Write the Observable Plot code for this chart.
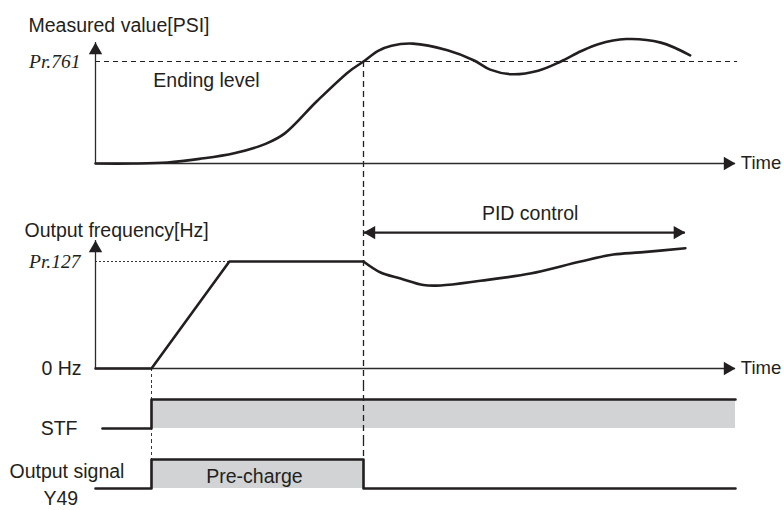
<!DOCTYPE html>
<html>
<head>
<meta charset="utf-8">
<script src="https://cdn.jsdelivr.net/npm/d3@7"></script>
<script src="https://cdn.jsdelivr.net/npm/@observablehq/plot@0.6"></script>
<style>
  html, body { margin: 0; padding: 0; background: #fff; }
  #chart svg { display: block; }
</style>
</head>
<body>
<div id="chart"></div>
<script>
// ---------- data (time in arbitrary units, levels in % of set level) ----------
const timeDomain = [0, 24];          // time axis extent
const tStart = 2.1;                  // STF on / acceleration starts
const tAccelEnd = 5.02;              // output frequency reaches Pr.127
const tSwitch = 10.05;               // measured value reaches Pr.761 (ending level)
const tPidEnd = 22.12;               // end of PID control arrow
const measuredAxisTop = 118.6;
const freqAxisTop = 119.6;
const endingLevel = 100;             // Pr.761
const precharFreq = 100;             // Pr.127
const pidArrowLevel = 127;

// measured value [t, value]
const measured = [
  [0, 0], [1.4, 0], [2.7, 1], [3.9, 4.5], [5.2, 10], [6.4, 19.5], [7.1, 29.5],
  [8.3, 61], [9.5, 90], [10.05, 100], [10.6, 110.5], [11.1, 115.5], [11.9, 117.5],
  [13.2, 111], [14.2, 101], [14.8, 92], [15.6, 87.5], [16.6, 91], [17.45, 100],
  [18.2, 110], [18.85, 117], [19.9, 122], [21.2, 118.5], [22.3, 106]
];
// output frequency, pre-charge ramp [t, value]
const freqRamp = [[0, 0], [2.1, 0], [5.02, 100], [10.05, 100]];
// output frequency under PID control [t, value]
const freqPid = [
  [10.05, 100], [10.69, 89.7], [11.44, 84.1], [12.3, 78], [12.94, 77.6],
  [14.44, 82], [16.31, 88.8], [18.19, 100], [19.42, 106.5], [20.44, 108.5], [22.12, 112.4]
];
// STF signal (step after) [t, state]
const stf = [[0.26, 0], [2.1, 1], [24, 1]];
const stfOn = [[2.1, 24]];
// Y49 output signal (step after) [t, state]
const y49 = [[0, 0], [2.1, 1], [10.05, 0], [24, 0]];
const y49On = [[2.1, 10.05]];

// ---------- styling ----------
const INK = "#231f20";
const AXIS = "#2b2b2b";
const GREY = "#d1d3d4";
const SANS = "Liberation Sans, Arial, Helvetica, sans-serif";
const SERIF = "Liberation Serif, Times New Roman, serif";
const FS = 19.5;
const FS_TIME = 18.5;

function panel(opts) {
  return Plot.plot({
    width: 784,
    height: opts.height,
    marginLeft: 95,
    marginRight: 49,
    marginTop: opts.marginTop,
    marginBottom: opts.marginBottom,
    x: {domain: timeDomain, axis: null},
    y: {domain: opts.yDomain, axis: null},
    style: {fontFamily: SANS, fontSize: FS + "px", color: INK, background: "#fff", overflow: "visible"},
    marks: opts.marks
  });
}
const headR = 5, headOff = 7.8;
const upHead = (v) => Plot.dot([[0, v]], {x: d => d[0], y: d => d[1], symbol: "triangle", r: headR, fill: INK, stroke: "none", dy: headOff});
const rightHead = (t, v) => Plot.dot([[t, v]], {x: d => d[0], y: d => d[1], symbol: "triangle", r: headR, rotate: 90, fill: INK, stroke: "none", dx: -headOff});
const leftHead = (t, v) => Plot.dot([[t, v]], {x: d => d[0], y: d => d[1], symbol: "triangle", r: headR, rotate: -90, fill: INK, stroke: "none", dx: headOff});
const label = (s, o) => Plot.text([s], {text: d => d, fill: INK, fontSize: FS, ...o});
const timeLabel = () => Plot.text([[24.2, 0]], {x: d => d[0], y: d => d[1], text: () => "Time", textAnchor: "start", fill: INK, fontSize: FS_TIME});

// ---------- panel A: measured value ----------
const A = panel({
  height: 190, marginTop: 61, marginBottom: 27, yDomain: [0, 100],
  marks: [
    label("Measured value[PSI]", {frameAnchor: "top-left", dx: -67, dy: -43, textAnchor: "start"}),
    Plot.ruleY([endingLevel], {x1: 0, x2: 24.08, stroke: INK, strokeWidth: 1, strokeDasharray: "5,4"}),
    Plot.ruleX([tSwitch], {y1: endingLevel, y2: 0, insetBottom: -27, stroke: INK, strokeWidth: 1.3, strokeDasharray: "6,4"}),
    Plot.ruleX([0], {y1: 0, y2: measuredAxisTop, stroke: AXIS, strokeWidth: 1.3}),
    upHead(measuredAxisTop),
    Plot.ruleY([0], {x1: 0, x2: timeDomain[1], stroke: AXIS, strokeWidth: 1.3}),
    rightHead(timeDomain[1], 0),
    timeLabel(),
    Plot.text([endingLevel], {y: d => d, text: () => "Pr.761", frameAnchor: "left", dx: -15, textAnchor: "end", fontFamily: SERIF, fontStyle: "italic", fill: INK, fontSize: FS}),
    Plot.text([[2.17, 81]], {x: d => d[0], y: d => d[1], text: () => "Ending level", textAnchor: "start", fill: INK, fontSize: FS}),
    Plot.line(measured, {x: d => d[0], y: d => d[1], curve: "catmull-rom", stroke: INK, strokeWidth: 2.6})
  ]
});

// ---------- panel B: output frequency ----------
const B = panel({
  height: 195, marginTop: 71, marginBottom: 17, yDomain: [0, 100],
  marks: [
    label("Output frequency[Hz]", {frameAnchor: "top-left", dx: -71, dy: -38, textAnchor: "start"}),
    Plot.ruleY([precharFreq], {x1: 0, x2: tAccelEnd, stroke: INK, strokeWidth: 0.9, strokeDasharray: "2,2"}),
    Plot.ruleX([tSwitch], {insetTop: -71, insetBottom: -17, stroke: INK, strokeWidth: 1.3, strokeDasharray: "6,4"}),
    Plot.ruleX([tStart], {y1: 0, y2: 0, insetBottom: -17, stroke: INK, strokeWidth: 0.9, strokeDasharray: "3,3"}),
    Plot.ruleX([0], {y1: 0, y2: freqAxisTop, stroke: AXIS, strokeWidth: 1.3}),
    upHead(freqAxisTop),
    Plot.ruleY([0], {x1: 0, x2: timeDomain[1], stroke: AXIS, strokeWidth: 1.3}),
    rightHead(timeDomain[1], 0),
    timeLabel(),
    Plot.text([precharFreq], {y: d => d, text: () => "Pr.127", frameAnchor: "left", dx: -15, textAnchor: "end", fontFamily: SERIF, fontStyle: "italic", fill: INK, fontSize: FS}),
    Plot.text([0], {y: d => d, text: () => "0 Hz", frameAnchor: "left", dx: -14, textAnchor: "end", fill: INK, fontSize: FS}),
    Plot.ruleY([pidArrowLevel], {x1: tSwitch, x2: tPidEnd, stroke: INK, strokeWidth: 2.2}),
    leftHead(tSwitch, pidArrowLevel),
    rightHead(tPidEnd, pidArrowLevel),
    Plot.text([[16.3, 145]], {x: d => d[0], y: d => d[1], text: () => "PID control", fill: INK, fontSize: FS}),
    Plot.line(freqRamp, {x: d => d[0], y: d => d[1], stroke: INK, strokeWidth: 2.6}),
    Plot.line(freqPid, {x: d => d[0], y: d => d[1], curve: "catmull-rom", stroke: INK, strokeWidth: 2.6})
  ]
});

// ---------- panel C: STF ----------
const C = panel({
  height: 55, marginTop: 14, marginBottom: 12, yDomain: [0, 1],
  marks: [
    Plot.rect(stfOn, {x1: d => d[0], x2: d => d[1], y1: 0, y2: 1, fill: GREY}),
    Plot.ruleX([tSwitch], {insetTop: -14, insetBottom: -12, stroke: INK, strokeWidth: 1.3, strokeDasharray: "6,4"}),
    Plot.ruleX([tStart], {insetTop: -14, insetBottom: -12, stroke: INK, strokeWidth: 0.9, strokeDasharray: "3,3"}),
    Plot.line(stf, {x: d => d[0], y: d => d[1], curve: "step-after", stroke: INK, strokeWidth: 2.6}),
    Plot.text([0], {y: d => d, text: () => "STF", frameAnchor: "left", dx: -18, textAnchor: "end", fill: INK, fontSize: FS})
  ]
});

// ---------- panel D: Y49 ----------
const D = panel({
  height: 70, marginTop: 19, marginBottom: 22, yDomain: [0, 1],
  marks: [
    Plot.rect(y49On, {x1: d => d[0], x2: d => d[1], y1: 0, y2: 1, fill: GREY}),
    Plot.ruleX([tSwitch], {y1: 1, y2: 1, insetTop: -19, stroke: INK, strokeWidth: 1.3, strokeDasharray: "6,4"}),
    Plot.ruleX([tStart], {y1: 1, y2: 1, insetTop: -19, stroke: INK, strokeWidth: 0.9, strokeDasharray: "3,3"}),
    Plot.line(y49, {x: d => d[0], y: d => d[1], curve: "step-after", stroke: INK, strokeWidth: 2.6}),
    Plot.text([[5.96, 0.4]], {x: d => d[0], y: d => d[1], text: () => "Pre-charge", fill: INK, fontSize: FS}),
    Plot.text([0], {y: d => d, text: () => "Output signal", frameAnchor: "left", dx: -86, dy: -17, textAnchor: "start", fill: INK, fontSize: FS}),
    Plot.text([0], {y: d => d, text: () => "Y49", frameAnchor: "left", dx: -52, dy: 10, textAnchor: "start", fill: INK, fontSize: FS})
  ]
});

const chart = document.getElementById("chart");
[A, B, C, D].forEach(el => chart.appendChild(el));
</script>
</body>
</html>
